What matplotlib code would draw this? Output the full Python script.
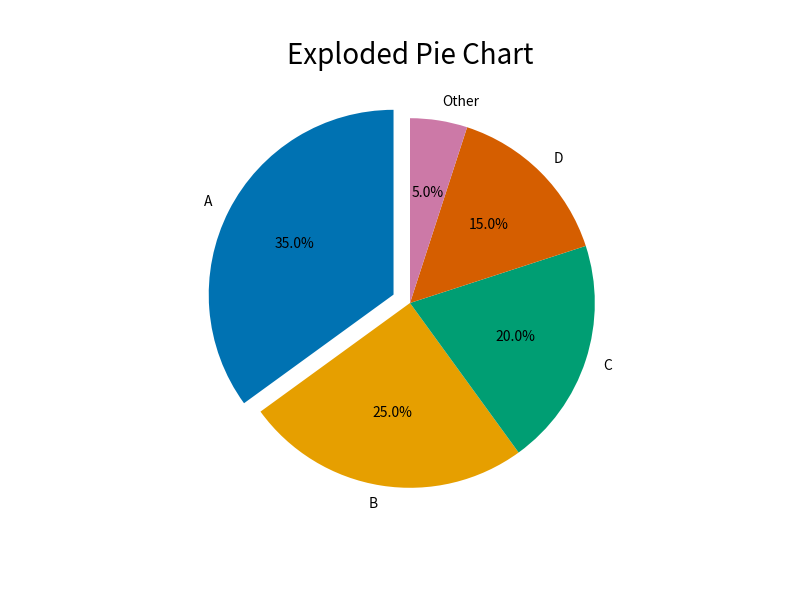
import matplotlib
matplotlib.use("Agg")
import matplotlib.pyplot as plt

plt.rcParams["font.family"] = ["Noto Sans CJK JP", "DejaVu Sans"]

labels = ["A", "B", "C", "D", "Other"]
sizes = [35, 25, 20, 15, 5]
explode = [0.1, 0, 0, 0, 0]
colors = ["#0072B2", "#E69F00", "#009E73", "#D55E00", "#CC79A7"]

fig, ax = plt.subplots(figsize=(8, 6), dpi=100)
ax.pie(sizes, labels=labels, explode=explode, colors=colors,
       autopct="%1.1f%%", startangle=90, textprops={"fontsize": 10})
ax.set_title("Exploded Pie Chart", fontsize=20)

fig.savefig("out.png", dpi=100)
